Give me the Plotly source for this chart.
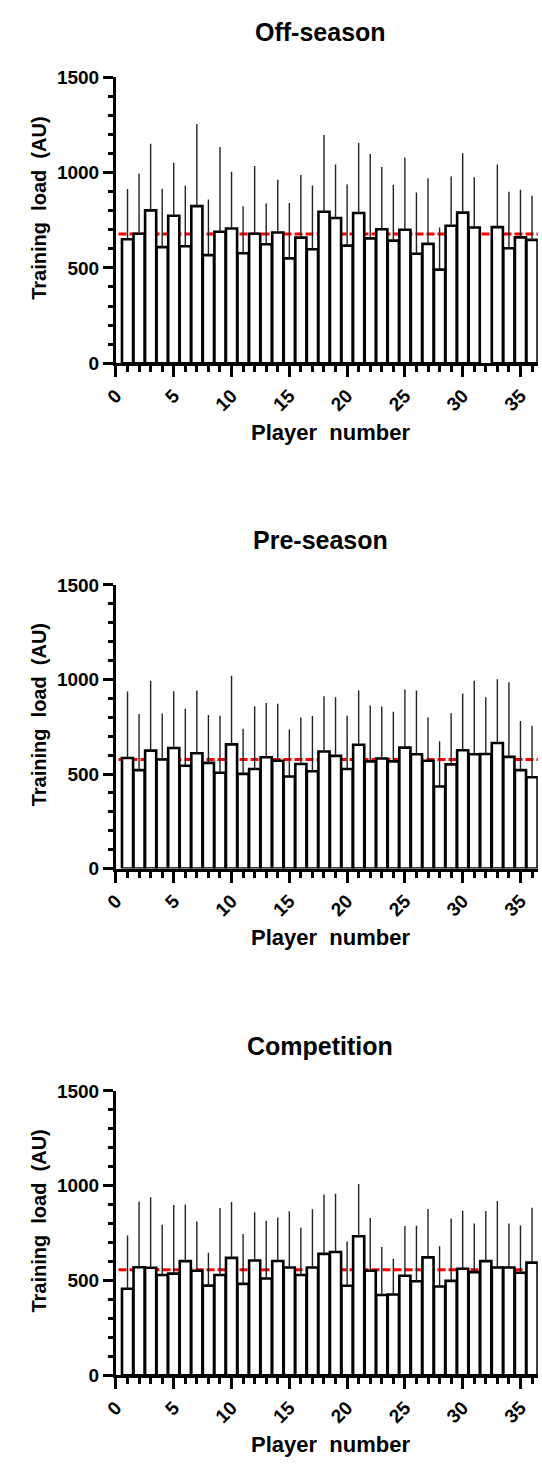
import plotly.graph_objects as go

# ---- data -------------------------------------------------------------
players = list(range(1, 37))

off_mean = [650, 679, 802, 609, 774, 614, 824, 567, 690, 707, 577, 679, 624, 686, 550, 659, 598, 795,
            762, 617, 788, 655, 703, 643, 700, 574, 626, 491, 721, 790, 712, None, 714, 603, 660, 647]
off_sd = [264, 316, 350, 307, 278, 317, 431, 292, 445, 298, 247, 356, 214, 276, 291, 329, 335, 403,
          281, 321, 367, 443, 326, 293, 379, 322, 345, 221, 258, 312, 264, None, 329, 297, 250, 232]
off_group_mean = 678

pre_mean = [585, 521, 624, 577, 638, 544, 610, 559, 507, 657, 501, 527, 589, 570, 487, 553, 515, 619,
            596, 527, 655, 567, 582, 567, 640, 605, 570, 434, 551, 626, 605, 606, 664, 591, 521, 483]
pre_sd = [352, 296, 370, 243, 300, 301, 332, 253, 301, 363, 238, 332, 287, 302, 248, 246, 292, 293,
          310, 281, 287, 295, 275, 262, 307, 337, 229, 240, 271, 300, 389, 300, 337, 394, 259, 272]
pre_group_mean = 577

comp_mean = [456, 570, 567, 529, 536, 602, 551, 473, 529, 619, 482, 605, 510, 603, 568, 529, 568, 640,
             650, 472, 733, 551, 423, 426, 525, 496, 622, 468, 498, 562, 544, 602, 568, 568, 541, 594]
comp_sd = [281, 347, 372, 265, 362, 299, 260, 173, 353, 295, 263, 255, 305, 229, 297, 249, 307, 314,
           307, 234, 276, 279, 253, 188, 262, 293, 255, 212, 329, 306, 257, 265, 351, 233, 249, 290]
comp_group_mean = 556

titles = ["Off-season", "Pre-season", "Competition"]
x_title = "Player&nbsp; number"
y_title = "Training&nbsp; load&nbsp; (AU)"

# ---- page geometry (pixels) --------------------------------------------
W, H = 542, 1473
FONT = "Liberation Sans"
x_left_px, x_right_px = 105.5, 537.7
panels = [  # (top of y axis, bottom of y axis) in pixels
    (68.3, 358.3),
    (583.3, 871.0),
    (1096.5, 1385.0),
]
series = [
    (off_mean, off_sd, off_group_mean),
    (pre_mean, pre_sd, pre_group_mean),
    (comp_mean, comp_sd, comp_group_mean),
]


def fx(px):
    return px / W


def fy(py):
    return 1 - py / H


fig = go.Figure()
annotations = []
shapes = []

for i, ((top, bot), (means, sds, gmean), title) in enumerate(zip(panels, series, titles)):
    n = "" if i == 0 else str(i + 1)
    xa, ya = "x" + n, "y" + n

    fig.add_trace(go.Bar(
        x=players, y=means, xaxis=xa, yaxis=ya,
        width=0.96,
        marker=dict(color="white", line=dict(color="black", width=2.6)),
        error_y=dict(type="data", symmetric=False, array=sds,
                     arrayminus=[0] * len(sds), color="#222222",
                     thickness=1.4, width=0),
        showlegend=False,
    ))

    # dashed group mean line, drawn beneath the bars
    shapes.append(dict(
        type="line", xref=xa + " domain", yref=ya, x0=0.006, x1=1.0,
        y0=gmean, y1=gmean, layer="below",
        line=dict(color="#ff0000", width=3, dash="8px,3px"),
    ))

    axis_common = dict(
        showline=True, linecolor="black", linewidth=3, mirror=False,
        showgrid=False, zeroline=False, ticks="outside", tickcolor="black",
        tickwidth=3,
        tickfont=dict(family=FONT, size=19, color="black", weight="bold"),
    )
    fig.update_layout(**{
        ("xaxis" + n): dict(
            axis_common, domain=[fx(x_left_px), fx(x_right_px)],
            anchor=ya, range=[0, 36.5], tickmode="linear", tick0=0, dtick=5,
            ticklen=11, tickangle=-45,
            minor=dict(ticks="outside", tick0=0, dtick=1, ticklen=6,
                       tickwidth=3, tickcolor="black"),
        ),
        ("yaxis" + n): dict(
            axis_common, domain=[fy(bot), fy(top)],
            anchor=xa, range=[0, 1500], tickmode="linear", tick0=0, dtick=500,
            ticklen=10,
            minor=dict(ticks="outside", tick0=0, dtick=100, ticklen=5,
                       tickwidth=3, tickcolor="black"),
        ),
    })

    annotations.append(dict(
        text="<b>%s</b>" % title, xref="paper", yref="paper",
        x=fx(315), y=fy(top - 46), xanchor="center", yanchor="middle",
        showarrow=False, font=dict(family=FONT, size=25, color="black"),
    ))
    annotations.append(dict(
        text="<b>%s</b>" % x_title, xref="paper", yref="paper",
        x=fx(325), y=fy(bot + 70), xanchor="center", yanchor="middle",
        showarrow=False, font=dict(family=FONT, size=22, color="black"),
    ))
    annotations.append(dict(
        text="<b>%s</b>" % y_title, xref="paper", yref="paper",
        x=fx(27), y=fy((top + bot) / 2 - 12), xanchor="center", yanchor="middle",
        textangle=-90, showarrow=False,
        font=dict(family=FONT, size=20, color="black"),
    ))

fig.update_layout(
    width=W, height=H,
    margin=dict(l=0, r=0, t=0, b=0),
    paper_bgcolor="white", plot_bgcolor="white",
    annotations=annotations, shapes=shapes,
    font=dict(family=FONT, color="black"),
)

fig.write_html("out.html")
